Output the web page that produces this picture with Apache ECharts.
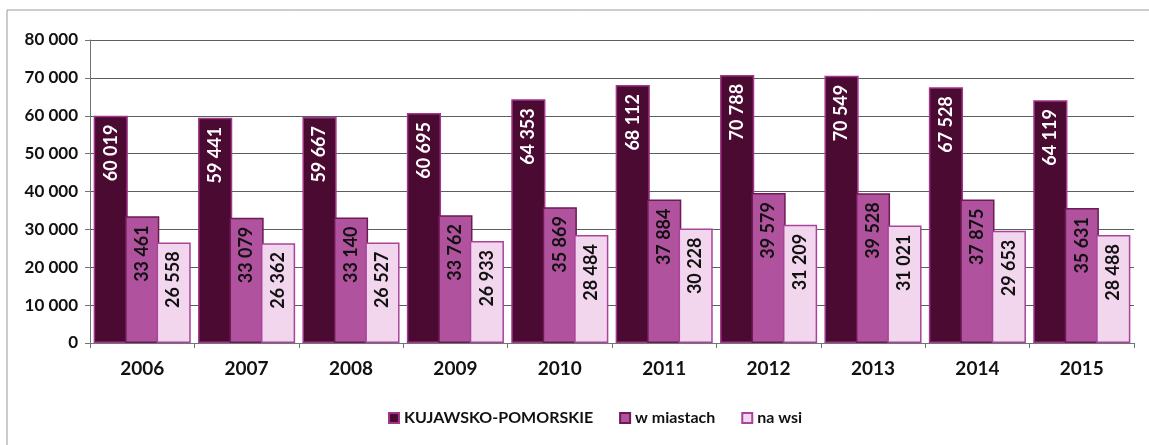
<!DOCTYPE html>
<html>
<head>
<meta charset="utf-8">
<script src="https://cdn.jsdelivr.net/npm/echarts@6/dist/echarts.min.js"></script>
<style>
  html, body { margin: 0; padding: 0; background: #fff; }
  #chart { width: 1149px; height: 445px; }
</style>
</head>
<body>
<div id="chart"></div>
<script>
const years = ["2006", "2007", "2008", "2009", "2010", "2011", "2012", "2013", "2014", "2015"];
const kujawsko = [60019, 59441, 59667, 60695, 64353, 68112, 70788, 70549, 67528, 64119];
const miasta = [33461, 33079, 33140, 33762, 35869, 37884, 39579, 39528, 37875, 35631];
const wies = [26558, 26362, 26527, 26933, 28484, 30228, 31209, 31021, 29653, 28488];

const fmt = (v) => String(v).replace(/\B(?=(\d{3})+(?!\d))/g, " ");
const font = "Lato, 'Open Sans', sans-serif";

const chart = echarts.init(document.getElementById("chart"));

const barLabel = (color) => ({
  show: true,
  position: "insideTop",
  rotate: 90,
  align: "right",
  verticalAlign: "middle",
  distance: 9,
  color: color,
  fontFamily: font,
  fontWeight: "bold",
  fontSize: 18,
  formatter: (p) => fmt(p.value),
});

const option = {
  animation: false,
  backgroundColor: "#fff",
  graphic: [
    {
      type: "rect",
      shape: { x: 7, y: 10, width: 1160, height: 460 },
      style: { fill: "none", stroke: "#9a9a9a", lineWidth: 1 },
      silent: true,
    },
  ],
  grid: { left: 90, right: 15, top: 40, bottom: 102 },
  legend: {
    bottom: 14,
    left: 383,
    itemWidth: 10,
    itemHeight: 10,
    itemGap: 26,
    icon: "rect",
    textStyle: { fontFamily: font, fontSize: 16, fontWeight: "bold", color: "#111" },
    data: ["KUJAWSKO-POMORSKIE", "w miastach", "na wsi"],
  },
  xAxis: {
    type: "category",
    data: years,
    axisLine: { lineStyle: { color: "#6e7676" } },
    axisTick: { show: true, length: 5, lineStyle: { color: "#6e7676" } },
    axisLabel: { margin: 16, fontFamily: font, fontSize: 19, fontWeight: "bold", color: "#111" },
  },
  yAxis: {
    type: "value",
    min: 0,
    max: 80000,
    interval: 10000,
    axisLine: { show: true, lineStyle: { color: "#6e7676" } },
    axisTick: { show: true, length: 5, lineStyle: { color: "#6e7676" } },
    splitLine: { lineStyle: { color: "#556060", width: 1 } },
    axisLabel: { margin: 12, fontFamily: font, fontSize: 17, fontWeight: "bold", color: "#111", formatter: (v) => fmt(v) },
  },
  series: [
    {
      name: "KUJAWSKO-POMORSKIE",
      type: "bar",
      data: kujawsko,
      barGap: "-8%",
      barCategoryGap: "7%",
      itemStyle: { color: "#4a0a31", borderColor: "#a3358a", borderWidth: 1.5 },
      label: barLabel("#ffffff"),
    },
    {
      name: "w miastach",
      type: "bar",
      data: miasta,
      barGap: "-8%",
      barCategoryGap: "7%",
      itemStyle: { color: "#b0529d", borderColor: "#6e1a55", borderWidth: 1.5 },
      label: barLabel("#111111"),
    },
    {
      name: "na wsi",
      type: "bar",
      data: wies,
      barGap: "-8%",
      barCategoryGap: "7%",
      itemStyle: { color: "#f2d6ee", borderColor: "#a8449a", borderWidth: 1.5 },
      label: barLabel("#111111"),
    },
  ],
};

chart.setOption(option);
</script>
</body>
</html>
